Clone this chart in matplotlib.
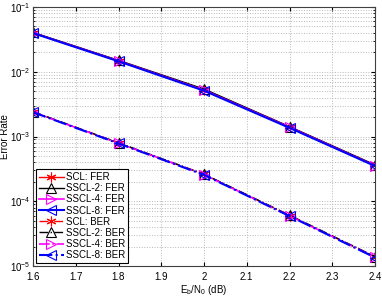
import matplotlib
matplotlib.use("Agg")
import matplotlib.pyplot as plt
from matplotlib.ticker import LogLocator, NullFormatter

plt.rcParams['font.family'] = ['Liberation Sans', 'DejaVu Sans']
plt.rcParams['mathtext.fontset'] = 'custom'
plt.rcParams['mathtext.rm'] = 'Liberation Sans'
plt.rcParams['mathtext.it'] = 'Liberation Sans'

# 数据
ebn0 = [1.6, 1.8, 2.0, 2.2, 2.4]
scl_fer = [0.0400, 0.0148, 0.0053, 0.00140, 0.000360]
sscl2_fer = [0.0405, 0.0150, 0.0054, 0.00142, 0.000365]
sscl4_fer = [0.0398, 0.0147, 0.0052, 0.00139, 0.000355]
sscl8_fer = [0.0395, 0.0145, 0.0051, 0.00136, 0.000350]
scl_ber = [0.00240, 0.00079, 0.000260, 6.0e-5, 1.38e-5]
sscl2_ber = [0.00242, 0.00080, 0.000262, 6.1e-5, 1.40e-5]
sscl4_ber = [0.00239, 0.00079, 0.000258, 5.95e-5, 1.37e-5]
sscl8_ber = [0.00237, 0.00078, 0.000255, 5.9e-5, 1.35e-5]

names = ['SCL', 'SSCL-2', 'SSCL-4', 'SSCL-8']
colors = ['red', 'black', 'magenta', 'blue']
markers = [(6, 2, 0), '^', '>', '<']
fer = [scl_fer, sscl2_fer, sscl4_fer, sscl8_fer]
ber = [scl_ber, sscl2_ber, sscl4_ber, sscl8_ber]
widths = [1.0, 1.0, 1.2, 1.5]

fig = plt.figure(figsize=(3.82, 2.98), dpi=100)
ax = fig.add_axes([33 / 382, 1 - 266 / 298, 342 / 382, 259 / 298])

for n, c, m, y, w in zip(names, colors, markers, fer, widths):
	ax.semilogy(ebn0, y, color=c, marker=m, linestyle='-', linewidth=w,
		markersize=7, markerfacecolor='none', markeredgewidth=0.8,
		label=n + ': FER')
for n, c, m, y, w in zip(names, colors, markers, ber, widths):
	ax.semilogy(ebn0, y, color=c, marker=m, linestyle='-.', linewidth=w,
		markersize=7, markerfacecolor='none', markeredgewidth=0.8,
		label=n + ': BER')

ax.set_xlim(1.6, 2.4)
ax.set_ylim(1e-5, 1e-1)
ax.set_xticks([1.6, 1.7, 1.8, 1.9, 2.0, 2.1, 2.2, 2.3, 2.4])
ax.set_xticklabels(['1.6', '1.7', '1.8', '1.9', '2', '2.1', '2.2', '2.3', '2.4'])
ax.yaxis.set_minor_locator(LogLocator(base=10, subs=range(2, 10)))
ax.yaxis.set_minor_formatter(NullFormatter())
ax.tick_params(which='both', direction='in', top=True, right=True, labelsize=7)
ax.tick_params(axis='y', pad=2)
ax.tick_params(axis='x', pad=4)
ax.tick_params(which='major', length=3)
ax.tick_params(which='minor', length=1.5)
ax.grid(True, which='major', linestyle=':', color='#b8b8b8', linewidth=0.7)
ax.grid(True, which='minor', linestyle=':', color='#b8b8b8', linewidth=0.7)
for s in ax.spines.values():
	s.set_color('#404040')

ax.set_xlabel('E$_\\mathregular{b}$/N$_\\mathregular{0}$ (dB)', fontsize=7, labelpad=1)
ax.set_ylabel('Error Rate', fontsize=7, labelpad=0)

leg = ax.legend(loc='lower left', fontsize=7, frameon=True, fancybox=False,
	edgecolor='black', framealpha=1, borderpad=0.3, labelspacing=0.12,
	handlelength=2.6, handletextpad=0.2, borderaxespad=0.3)
leg.get_frame().set_linewidth(0.8)

fig.savefig('out.png', dpi=100)
